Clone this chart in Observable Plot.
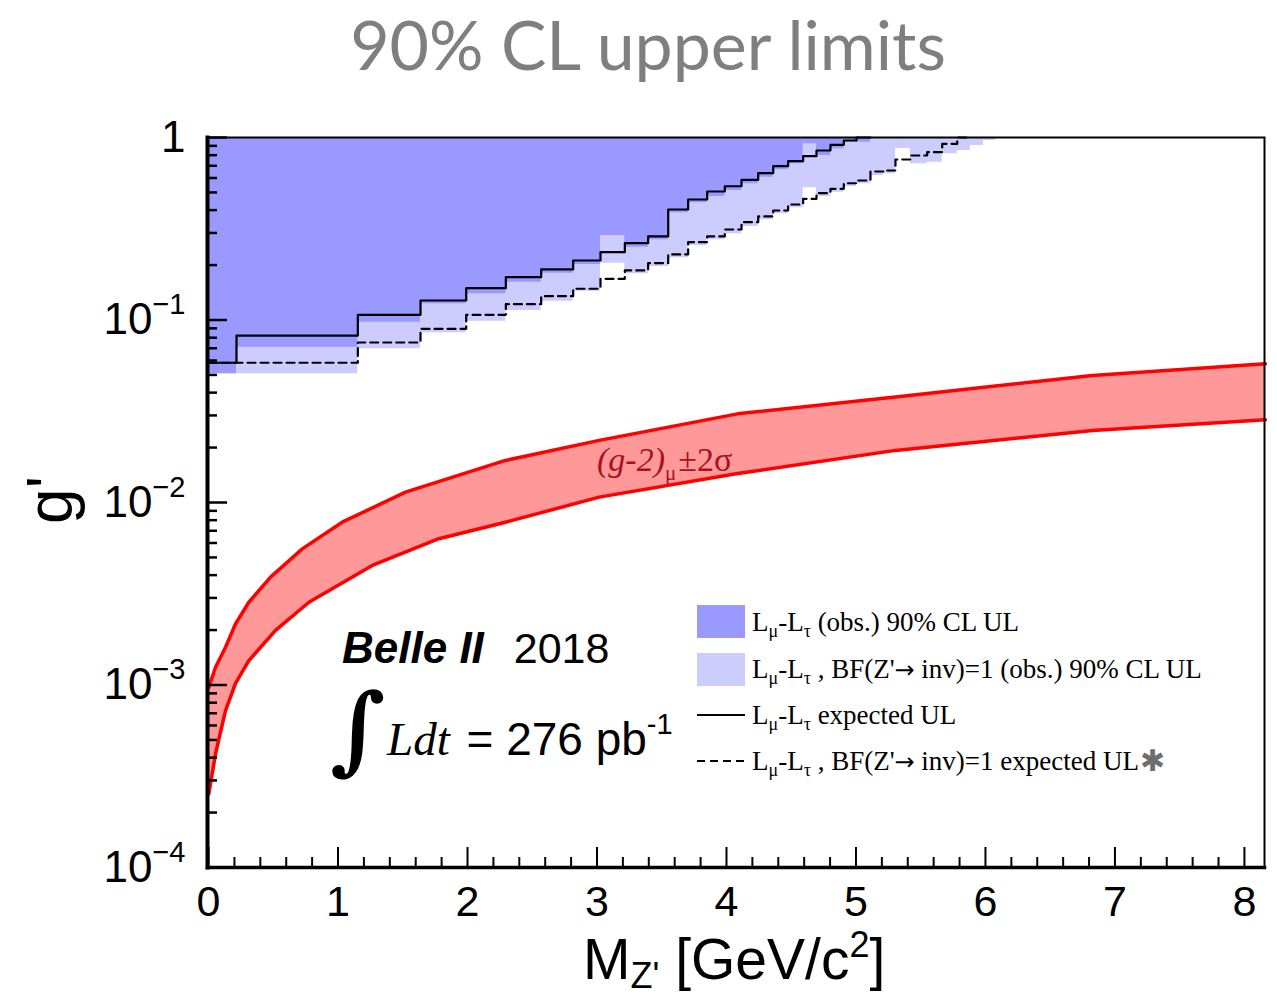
<!DOCTYPE html>
<html>
<head>
<meta charset="utf-8">
<script src="https://cdn.jsdelivr.net/npm/d3@7"></script>
<script src="https://cdn.jsdelivr.net/npm/@observablehq/plot@0.6"></script>
<style>
  html, body { margin: 0; padding: 0; background: #fff; }
  #wrap { position: relative; width: 1277px; height: 1000px; overflow: hidden; background: #fff; }
  #chart { position: absolute; left: 0; top: 100px; }
  #overlay { position: absolute; left: 0; top: 0; pointer-events: none; }
  #overlay text { white-space: pre; }
</style>
</head>
<body>
<div id="wrap"><div id="chart"></div></div>
<script>
// ---------- data ----------
// Z' mass bin edges [GeV/c^2]
const binEdges = [0, 0.216, 1.153, 1.637, 1.990, 2.296, 2.569, 2.816, 3.027, 3.215, 3.395, 3.550,
  3.704, 3.851, 3.987, 4.116, 4.245, 4.361, 4.476, 4.592, 4.695, 4.803, 4.906, 5.004, 5.112,
  5.212, 5.305, 5.421, 5.550, 5.666, 5.782, 5.884, 5.985, 6.080];
// L_mu-L_tau observed 90% CL UL (dark blue)
const obsLimit = [0.0507, 0.0710, 0.0973, 0.1227, 0.1392, 0.1611, 0.1805, 0.2014, 0.2904, 0.2506,
  0.2752, 0.3867, 0.4386, 0.4750, 0.5124, 0.5573, 0.6058, 0.6653, 0.7176, 0.9236, 0.7969, 0.8671,
  0.9424, 0.9424, 1, 1, 1, 1, 1, 1, 1, 1, 1];
// L_mu-L_tau, BF(Z'->inv)=1 observed 90% CL UL (light blue)
const obsLimitBF = [0.0507, 0.0507, 0.0696, 0.0851, 0.0985, 0.1127, 0.1268, 0.1439, 0.2047, 0.1792,
  0.1964, 0.2192, 0.2560, 0.2752, 0.2968, 0.3253, 0.3540, 0.3819, 0.4118, 0.5301, 0.4750, 0.5014,
  0.5388, 0.5573, 0.6190, 0.6324, 0.8705, 0.7176, 0.7322, 0.8142, 0.8485, 0.9040, 0.9629];
// L_mu-L_tau expected UL (solid)
const expLimit = [0.0583, 0.0822, 0.1068, 0.1279, 0.1494, 0.1716, 0.1892, 0.2118, 0.2352, 0.2635,
  0.2869, 0.4032, 0.4573, 0.5059, 0.5407, 0.5862, 0.6372, 0.6962, 0.7417, 0.7898, 0.8485, 0.9120,
  0.9629, 1];
// L_mu-L_tau, BF(Z'->inv)=1 expected UL (dashed)
const expLimitBF = [0.0583, 0.0583, 0.0753, 0.0895, 0.1068, 0.1221, 0.1350, 0.1483, 0.1682, 0.1868,
  0.2047, 0.2286, 0.2669, 0.2869, 0.3133, 0.3436, 0.3693, 0.3981, 0.4294, 0.4613, 0.4955, 0.5235,
  0.5616, 0.5811, 0.6512, 0.6595, 0.7575, 0.7969, 0.8309, 0.9236, 1];
// (g-2)_mu +-2 sigma band
const gm2UpperMass = [0.002, 0.054, 0.131, 0.208, 0.311, 0.479, 0.724, 1.032, 1.521, 2.293, 3.017, 4.085, 5.305, 6.826, 8.162];
const gm2Upper     = [9.7e-4, 1.25e-3, 1.61e-3, 2.16e-3, 2.84e-3, 3.90e-3, 5.57e-3, 7.80e-3, 1.14e-2, 1.70e-2, 2.19e-2, 3.06e-2, 3.78e-2, 4.97e-2, 5.76e-2];
const gm2LowerMass = [0.002, 0.054, 0.131, 0.208, 0.311, 0.517, 0.775, 1.264, 1.778, 2.293, 3.017, 4.085, 5.305, 6.826, 8.162];
const gm2Lower     = [2.53e-4, 4.20e-4, 7.24e-4, 1.02e-3, 1.36e-3, 1.99e-3, 2.84e-3, 4.52e-3, 6.33e-3, 7.80e-3, 1.07e-2, 1.44e-2, 1.93e-2, 2.48e-2, 2.84e-2];

// ticks
const xMajorTicks = [0, 1, 2, 3, 4, 5, 6, 7, 8];
const xMinorTicks = d3.range(1, 41).filter(i => i % 5 !== 0).map(i => +(i * 0.2).toFixed(1));
const yMajorTicks = [1e-4, 1e-3, 1e-2, 1e-1, 1];
const yMinorTicks = [];
for (let k = -4; k <= -1; k++) for (let j = 2; j <= 9; j++) yMinorTicks.push(+(j * Math.pow(10, k)).toPrecision(3));
const yTickLabel = d => d === 1 ? "1" : "10^" + Math.round(Math.log10(d));

// ---------- derived tables ----------
const gTop = 1;
const stepPts = vals => {
  const p = vals.map((g, i) => ({m: binEdges[i], g}));
  p.push({m: binEdges[vals.length], g: vals[vals.length - 1]});
  return p;
};
const fillBF = stepPts(obsLimitBF), fillObs = stepPts(obsLimit);
const lineExp = stepPts(expLimit), lineExpBF = stepPts(expLimitBF);
const band = gm2Upper.map((u, i) => ({mu: gm2UpperMass[i], u, ml: gm2LowerMass[i], l: gm2Lower[i]}));

const plot = Plot.plot({
  width: 1277, height: 900,
  marginTop: 37, marginBottom: 133, marginLeft: 207, marginRight: 13,
  x: {domain: [-0.008, 8.155]},
  y: {type: "log", domain: [1e-4, 1]},
  style: {background: "white", fontFamily: "'Liberation Sans', Arial, sans-serif", fontSize: "43px", color: "black", overflow: "visible"},
  marks: [
    Plot.areaY(fillBF, {x: "m", y1: "g", y2: () => gTop, curve: "step-after", fill: "#ccccff"}),
    Plot.areaY(fillObs, {x: "m", y1: "g", y2: () => gTop, curve: "step-after", fill: "#9999ff"}),
    Plot.area(band, {x1: "ml", y1: "l", x2: "mu", y2: "u", fill: "#ff9999"}),
    Plot.line(band, {x: "mu", y: "u", stroke: "#ff0000", strokeWidth: 3.5}),
    Plot.line(band, {x: "ml", y: "l", stroke: "#ff0000", strokeWidth: 3.5}),
    Plot.line(lineExpBF, {x: "m", y: "g", curve: "step-after", stroke: "black", strokeWidth: 2.2, strokeDasharray: "8,5"}),
    Plot.line(lineExp, {x: "m", y: "g", curve: "step-after", stroke: "black", strokeWidth: 2.2}),
    Plot.frame({stroke: "black", strokeWidth: 2}),
    Plot.frame({anchor: "left", stroke: "black", strokeWidth: 4}),
    Plot.frame({anchor: "bottom", stroke: "black", strokeWidth: 3.5}),
    Plot.axisX(xMinorTicks, {tickSize: -10, tickFormat: () => "", strokeWidth: 2, label: null}),
    Plot.axisX(xMajorTicks, {tickSize: -20, tickFormat: () => "", strokeWidth: 2, label: null}),
    Plot.axisX(xMajorTicks, {tickSize: 0, tickPadding: 18, fontSize: 43, label: null, tickFormat: d => String(d)}),
    Plot.axisY(yMinorTicks, {tickSize: -10, tickFormat: () => "", strokeWidth: 2.5, label: null}),
    Plot.axisY(yMajorTicks, {tickSize: -20, tickFormat: () => "", strokeWidth: 2.5, label: null}),
    Plot.axisY(yMajorTicks, {tickSize: 0, tickPadding: 22, fontSize: 44, label: null, tickFormat: yTickLabel})
  ]
});
document.getElementById("chart").appendChild(plot);

// superscripts on y tick labels
plot.querySelectorAll("text").forEach(t => {
  const m = /^10\^(-?\d+)$/.exec(t.textContent.trim());
  if (!m) return;
  while (t.firstChild) t.removeChild(t.firstChild);
  const ns = "http://www.w3.org/2000/svg";
  const a = document.createElementNS(ns, "tspan"); a.textContent = "10"; t.appendChild(a);
  const b = document.createElementNS(ns, "tspan"); b.textContent = m[1].replace("-", "\u2212");
  b.setAttribute("font-size", "29"); b.setAttribute("dy", "-20"); t.appendChild(b);
});

// ---------- overlay text ----------
const ov = d3.select("#wrap").append("svg").attr("id", "overlay").attr("width", 1277).attr("height", 1000);
function txt(x, y, parts, base) {
  const t = ov.append("text").attr("x", x).attr("y", y);
  Object.entries(base || {}).forEach(([k, v]) => t.attr(k, v));
  parts.forEach(p => {
    const s = t.append("tspan").text(p.t);
    ["dy", "dx", "font-size", "font-style", "font-weight", "font-family", "fill"].forEach(k => { if (p[k] !== undefined) s.attr(k, p[k]); });
  });
  return t;
}
// title
txt(648, 70, [{t: "90% CL upper limits"}], {"text-anchor": "middle", "font-family": "Lato, 'Open Sans', sans-serif", "font-size": 68, fill: "#7f7f7f"});
// axis titles
txt(0, 0, [{t: "g'"}], {"text-anchor": "middle", "font-family": "'Liberation Sans', Arial, sans-serif", "font-size": 64, transform: "translate(72,500) rotate(-90)"});
txt(583, 979, [{t: "M"}, {t: "Z'", "font-size": 36, dy: 9}, {t: " [GeV/c", dy: -9}, {t: "2", "font-size": 36, dy: -22}, {t: "]", dy: 22}],
  {"font-family": "'Liberation Sans', Arial, sans-serif", "font-size": 57});
// Belle II annotation
txt(342, 663, [{t: "Belle II", "font-weight": "bold", "font-style": "italic", "font-size": 44}, {t: "  2018", "font-size": 43, dx: 6}],
  {"font-family": "'Liberation Sans', Arial, sans-serif"});
txt(330, 762, [{t: "\u222B"}], {"font-family": "'DejaVu Serif', 'Liberation Serif', serif", "font-size": 96, "font-weight": "bold"});
txt(387, 755, [{t: "Ldt", "font-style": "italic", "font-family": "'Liberation Serif', serif", "font-size": 47},
  {t: " = 276 pb", "font-family": "'Liberation Sans', Arial, sans-serif", "font-size": 46, dx: 4},
  {t: "-1", "font-family": "'Liberation Sans', Arial, sans-serif", "font-size": 29, dy: -21}], {});
// (g-2) label
txt(597, 471, [{t: "(g-2)", "font-style": "italic"}, {t: "\u03BC", "font-size": 21, dy: 9}, {t: "\u00B12\u03C3", dy: -9, dx: 2}],
  {"font-family": "'Liberation Serif', 'Times New Roman', serif", "font-size": 34, fill: "#a8121e"});
// legend
const lf = {"font-family": "'Liberation Serif', 'Times New Roman', serif", "font-size": 27, fill: "black"};
const LmLt = [{t: "L"}, {t: "\u03BC", "font-size": 18, dy: 6}, {t: "-L", dy: -6}, {t: "\u03C4", "font-size": 18, dy: 6}];
const arrow = {t: "\u2192", "font-family": "'DejaVu Sans', sans-serif", "font-size": 24};
ov.append("rect").attr("x", 697).attr("y", 605).attr("width", 48).attr("height", 33).attr("fill", "#9999ff");
ov.append("rect").attr("x", 697).attr("y", 653).attr("width", 48).attr("height", 33).attr("fill", "#ccccff");
ov.append("line").attr("x1", 697).attr("x2", 745).attr("y1", 715).attr("y2", 715).attr("stroke", "black").attr("stroke-width", 2);
ov.append("line").attr("x1", 697).attr("x2", 745).attr("y1", 761).attr("y2", 761).attr("stroke", "black").attr("stroke-width", 2).attr("stroke-dasharray", "8,5");
txt(752, 631, [...LmLt, {t: " (obs.) 90% CL UL", dy: -6}], lf);
txt(752, 678, [...LmLt, {t: " , BF(Z'", dy: -6}, arrow, {t: " inv)=1 (obs.) 90% CL UL"}], lf);
txt(752, 724, [...LmLt, {t: " expected UL", dy: -6}], lf);
txt(752, 770, [...LmLt, {t: " , BF(Z'", dy: -6}, arrow, {t: " inv)=1 expected UL"}], lf);
txt(1140, 771, [{t: "\u2731"}], {"font-family": "'DejaVu Sans', sans-serif", "font-size": 30, fill: "#6e6e6e"});
</script>
</body>
</html>
